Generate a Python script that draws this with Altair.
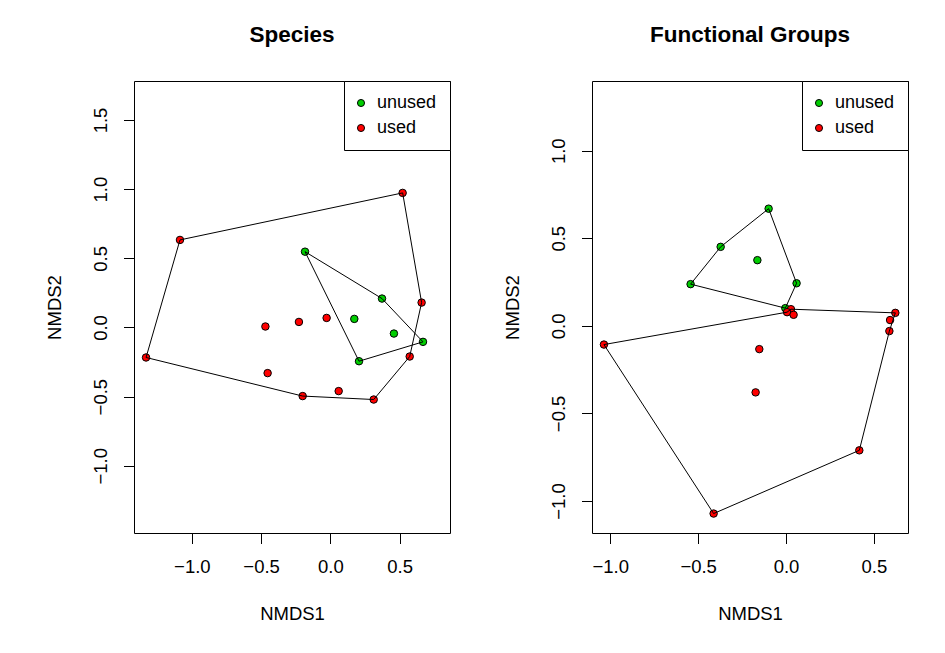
import altair as alt
import pandas as pd

# ---------------- data ----------------
groups = ["unused", "used"]
colors = ["#00CD00", "#FF0000"]

# Species panel
sp_unused_x = [-0.183, 0.373, 0.173, 0.459, 0.669, 0.207]
sp_unused_y = [0.548, 0.209, 0.062, -0.044, -0.104, -0.244]
sp_unused_hull = [0, 1, 4, 5, 0]
sp_used_x = [0.522, -1.086, -1.331, -0.469, -0.227, -0.027, -0.453, -0.200, 0.060, 0.313, 0.573, 0.659]
sp_used_y = [0.973, 0.633, -0.217, 0.007, 0.040, 0.069, -0.330, -0.496, -0.460, -0.521, -0.210, 0.180]
sp_used_hull = [2, 1, 0, 11, 10, 9, 7, 2]
sp_xdomain = [-1.418, 0.864]
sp_ydomain = [-1.486, 1.782]
sp_xticks = [-1.0, -0.5, 0.0, 0.5]
sp_yticks = [-1.0, -0.5, 0.0, 0.5, 1.0, 1.5]

# Functional groups panel
fg_unused_x = [-0.099, -0.372, -0.163, -0.543, 0.060, -0.004]
fg_unused_y = [0.669, 0.451, 0.375, 0.238, 0.243, 0.101]
fg_unused_hull = [0, 4, 5, 3, 1, 0]
fg_used_x = [0.028, 0.006, 0.043, 0.622, 0.592, 0.588, -1.036, -0.152, -0.173, 0.417, -0.412]
fg_used_y = [0.095, 0.078, 0.063, 0.074, 0.033, -0.030, -0.107, -0.133, -0.380, -0.711, -1.072]
fg_used_hull = [6, 1, 0, 3, 5, 9, 10, 6]
fg_xdomain = [-1.104, 0.694]
fg_ydomain = [-1.183, 1.398]
fg_xticks = [-1.0, -0.5, 0.0, 0.5]
fg_yticks = [-1.0, -0.5, 0.0, 0.5, 1.0]

FONT = "Liberation Sans"
W, H = 316, 452


def panel(title, ux, uy, uh, rx, ry, rh, xdom, ydom, xticks, yticks):
    pts = pd.DataFrame({
        "x": ux + rx,
        "y": uy + ry,
        "group": ["unused"] * len(ux) + ["used"] * len(rx),
    })
    hull_rows = []
    for gname, xs, ys, idx in (("unused", ux, uy, uh), ("used", rx, ry, rh)):
        for k, i in enumerate(idx):
            hull_rows.append({"x": xs[i], "y": ys[i], "group": gname, "ord": k})
    hull = pd.DataFrame(hull_rows)

    xenc = alt.X("x:Q", scale=alt.Scale(domain=xdom, nice=False, zero=False),
                 axis=alt.Axis(values=xticks, title="NMDS1", format=".1f",
                               labelPadding=14))
    yenc = alt.Y("y:Q", scale=alt.Scale(domain=ydom, nice=False, zero=False),
                 axis=alt.Axis(values=yticks, title="NMDS2", format=".1f",
                               labelAngle=270, labelAlign="center",
                               labelBaseline="alphabetic", labelPadding=17,
                               titlePadding=27))

    points = alt.Chart(pts).mark_circle(size=56, stroke="black", strokeWidth=1,
                                        opacity=1).encode(
        x=xenc, y=yenc,
        fill=alt.Fill("group:N",
                      scale=alt.Scale(domain=groups, range=colors),
                      legend=alt.Legend(title=None, orient="top-right")),
    )
    lines = alt.Chart(hull).mark_line(color="black", strokeWidth=1).encode(
        x="x:Q", y="y:Q", detail="group:N", order="ord:Q")

    return alt.layer(points, lines).properties(
        width=W, height=H,
        title=alt.TitleParams(title, fontSize=22.5, fontWeight="bold",
                              font=FONT, color="black", offset=34),
    )


left = panel("Species", sp_unused_x, sp_unused_y, sp_unused_hull,
             sp_used_x, sp_used_y, sp_used_hull,
             sp_xdomain, sp_ydomain, sp_xticks, sp_yticks)
right = panel("Functional Groups", fg_unused_x, fg_unused_y, fg_unused_hull,
              fg_used_x, fg_used_y, fg_used_hull,
              fg_xdomain, fg_ydomain, fg_xticks, fg_yticks)

chart = alt.hconcat(left, right, spacing=142, bounds="flush").resolve_scale(
    fill="independent", x="independent", y="independent"
).properties(
    padding={"left": 36, "top": 15, "right": 5, "bottom": 5}
).configure_view(
    stroke="black", strokeWidth=1
).configure_axis(
    grid=False, domain=False, tickColor="black", tickSize=10.5, tickWidth=1,
    labelFont=FONT, labelFontSize=18.5, labelColor="black", labelPadding=15,
    titleFont=FONT, titleFontSize=18.5, titleFontWeight="normal",
    titleColor="black", titlePadding=28,
).configure_legend(
    strokeColor="black", fillColor="white", padding=13, offset=0,
    cornerRadius=0, labelFont=FONT, labelFontSize=18, labelColor="black",
    symbolType="circle", symbolSize=50, symbolStrokeColor="black",
    symbolStrokeWidth=1, symbolOffset=-5, labelOffset=7, rowPadding=7,
    symbolOpacity=1,
).configure_title(anchor="middle")

chart.save("out.html", embed_options={"renderer": "svg", "actions": False})
